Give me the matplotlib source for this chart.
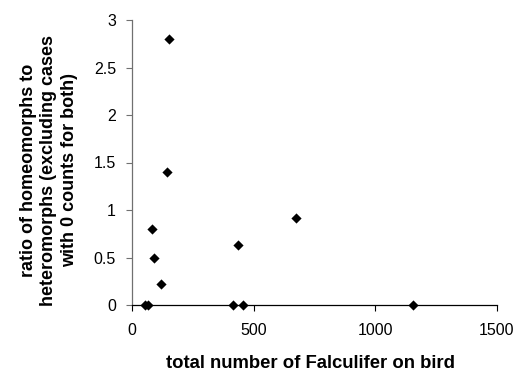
import matplotlib
matplotlib.use("Agg")
import matplotlib.pyplot as plt

total_falculifer = [150, 142, 84, 91, 118, 55, 65, 414, 456, 435, 674, 1156]
ratio = [2.8, 1.4, 0.8, 0.5, 0.22, 0.0, 0.0, 0.0, 0.0, 0.63, 0.92, 0.0]

x_ticks = [0, 500, 1000, 1500]
y_ticks = [0, 0.5, 1, 1.5, 2, 2.5, 3]
y_tick_labels = ["0", "0.5", "1", "1.5", "2", "2.5", "3"]

x_label = "total number of Falculifer on bird"
y_label = "ratio of homeomorphs to\nheteromorphs (excluding cases\nwith 0 counts for both)"

plt.rcParams['font.family'] = ['Liberation Sans', 'DejaVu Sans']

W, H = 517, 374
fig = plt.figure(figsize=(W / 100, H / 100), dpi=100)
ax = fig.add_axes([132 / W, 1 - 305 / H, (497 - 132) / W, (305 - 20) / H])

ax.scatter(total_falculifer, ratio, marker='D', s=27, color='black', zorder=3,
           clip_on=False, linewidths=0)

ax.set_xlim(0, 1500)
ax.set_ylim(0, 3)
ax.set_xticks(x_ticks)
ax.set_xticklabels([str(v) for v in x_ticks])
ax.set_yticks(y_ticks)
ax.set_yticklabels(y_tick_labels)
ax.spines['top'].set_visible(False)
ax.spines['right'].set_visible(False)
ax.spines['left'].set_color('#707070')
ax.spines['left'].set_linewidth(0.9)
ax.spines['bottom'].set_color('black')
ax.spines['bottom'].set_linewidth(0.9)
ax.tick_params(axis='both', labelsize=11.5, direction='out', length=4, width=0.8)
ax.tick_params(axis='x', pad=9)
ax.tick_params(axis='y', pad=7.5, colors='#707070', labelcolor='black')

fig.text(311 / W, 1 - 368 / H, x_label, fontsize=13.3, fontweight='bold',
         ha='center', va='baseline')
fig.text(49 / W, 1 - 170 / H, y_label, fontsize=13, fontweight='bold',
         ha='center', va='center', rotation=90, linespacing=1.3, multialignment='center')

fig.savefig("out.png", dpi=100)
